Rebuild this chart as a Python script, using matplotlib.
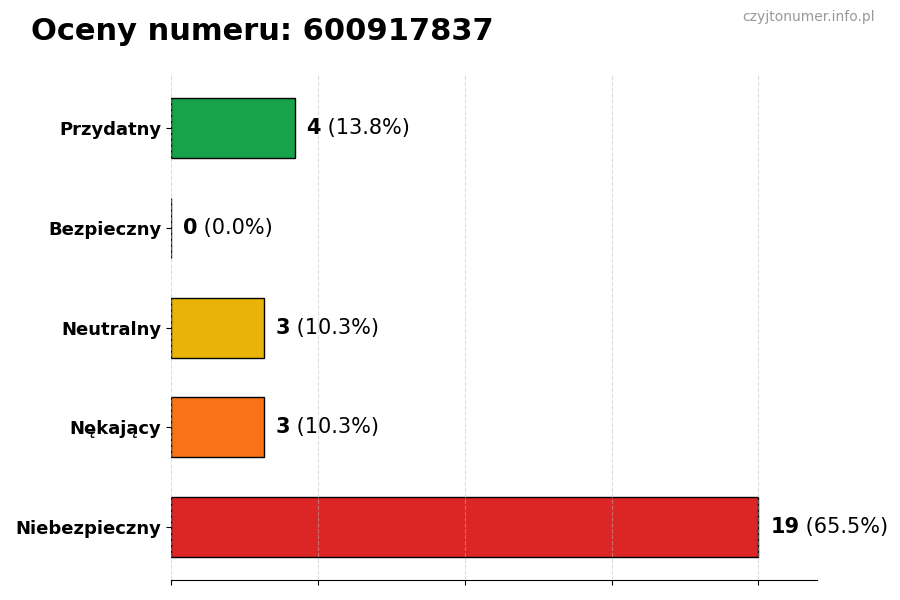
import numpy as np
import matplotlib
matplotlib.use('Agg')
import matplotlib.pyplot as plt

categories = ['Przydatny', 'Bezpieczny', 'Neutralny', 'Nękający', 'Niebezpieczny']
counts = [4, 0, 3, 3, 19]
colors = ['#16a34a', '#64748b', '#eab308', '#f97316', '#dc2626']
title = 'Oceny numeru: 600917837'
watermark = 'czyjtonumer.info.pl'

total = sum(counts)
y = np.arange(len(categories))[::-1]

fig = plt.figure(figsize=(9, 6), dpi=100)
ax = fig.add_axes([0.19, 0.033, 0.718, 0.842])

ax.barh(y, counts, height=0.6, color=colors, edgecolor='black', linewidth=1, zorder=2)
ax.set_yticks(y)
ax.set_yticklabels(categories, fontsize=13, fontweight='bold')

xmax = max(counts)
ax.set_xlim(0, xmax * 1.1)
ax.set_xticks(np.linspace(0, xmax, 5))
ax.set_xticklabels([])
# grid sits faintly over the bars like in the original
ax.grid(axis='x', linestyle='--', color='#bbbbbb', alpha=0.5, linewidth=0.8, zorder=3)
ax.set_axisbelow(False)

for s in ['top', 'right', 'left']:
    ax.spines[s].set_visible(False)

off = xmax * 0.02
for yi, c in zip(y, counts):
    t = ax.text(c + off, yi, str(c), va='center', ha='left', fontsize=15, fontweight='bold')
    ax.annotate(f' ({c / total * 100:.1f}%)', xycoords=t, xy=(1, 0.5), va='center', ha='left', fontsize=15)

fig.text(0.034, 0.948, title, fontsize=22, fontweight='bold', va='center', ha='left')
fig.text(0.972, 0.971, watermark, fontsize=10, color='#999999', va='center', ha='right')

fig.savefig('out.png', dpi=100)
